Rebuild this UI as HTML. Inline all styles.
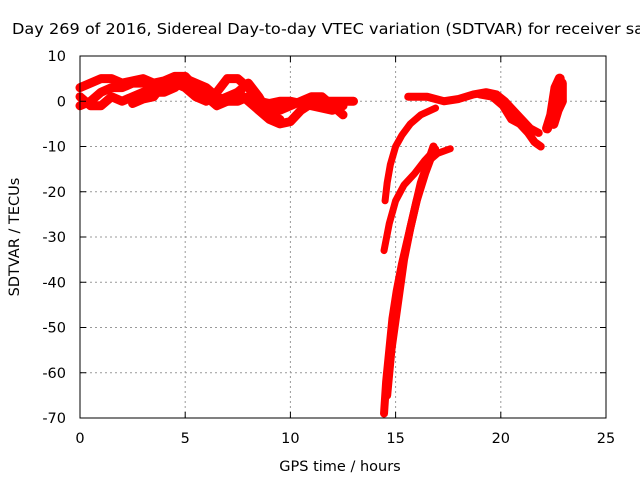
<!DOCTYPE html>
<html><head><meta charset="utf-8"><style>
body{margin:0;background:#fff;overflow:hidden;}
svg{display:block;font-family:"DejaVu Sans","Liberation Sans",sans-serif;}
</style></head><body>
<svg id="c" width="640" height="480">
<text x="12" y="34" font-size="15" textLength="632" lengthAdjust="spacingAndGlyphs">Day 269 of 2016, Sidereal Day-to-day VTEC variation (SDTVAR) for receiver sa</text>
<g id="grid"></g><g id="marks"></g><g id="axes"></g>
<text x="340" y="471" font-size="14.5" text-anchor="middle">GPS time / hours</text>
<text transform="translate(19,237) rotate(-90)" font-size="14.5" text-anchor="middle">SDTVAR / TECUs</text>
</svg>
<script>
const xTicks=[0,5,10,15,20,25];
const yTicks=[10,0,-10,-20,-30,-40,-50,-60,-70];
const trackLeft1=[[0,3],[0.5,4],[1,5],[1.5,5],[2,4],[2.5,4.5],[3,5],[3.5,4],[4,4.5],[4.5,5.5],[5,5.5],[5.5,3],[6,1],[6.5,0],[7,1],[7.5,2],[8,0],[8.5,-2],[9,-4],[9.5,-5],[10,-4.5],[10.5,-2],[11,-0.5],[11.5,0],[12,0],[12.5,0],[13,0]];
const trackLeft2=[[0,-1],[0.5,0],[1,2],[1.5,3],[2,3],[2.5,4],[3,4],[3.5,3],[4,3],[4.5,4],[5,3],[5.5,1],[6,0],[6.5,2],[7,5],[7.5,5],[8,3],[8.5,0],[9,-1],[9.5,-2],[10,-1],[10.5,0],[11,1],[11.5,1],[12,-1],[12.5,-3]];
const trackLeft3=[[0,1],[0.5,-1],[1,-1],[1.5,1],[2,0],[2.5,1],[3,2],[3.5,2],[4,2],[4.5,3],[5,5],[5.5,4],[6,3],[6.5,1],[7,0],[7.5,0],[8,1],[8.5,0],[9,-0.5],[9.5,0],[10,0],[11,-1],[12,-2],[12.5,-1]];
const trackLeft4=[[2.5,-0.5],[3,0.5],[3.5,1],[4,4],[4.5,5],[5,5],[5.5,3],[6,1],[6.5,-1],[7,0],[7.5,2],[8,4],[8.5,1],[9,-3],[9.5,-4]];
const trackA=[[14.5,-22],[14.6,-18],[14.75,-14],[15,-10],[15.3,-7.5],[15.7,-5],[16.2,-3],[16.9,-1.5]];
const trackB=[[14.45,-33],[14.7,-27],[15,-22],[15.4,-18.5],[15.9,-16],[16.4,-13],[16.9,-10.5]];
const trackB2=[[16.5,-13.5],[17,-11.5],[17.6,-10.5]];
const trackC1=[[14.45,-69],[14.55,-62],[14.7,-55],[14.85,-48],[15.05,-42],[15.3,-36],[15.6,-30],[15.9,-24],[16.2,-18],[16.5,-14],[16.8,-10]];
const trackC2=[[14.6,-65],[14.8,-55],[15.1,-45],[15.4,-35],[15.7,-28],[16,-22],[16.4,-16],[16.8,-11]];
const trackD1=[[15.6,1],[16.5,1],[17.3,0],[18,0.5],[18.7,1.5],[19.3,2],[19.8,1.5],[20.2,0],[20.6,-2],[21,-4],[21.4,-6],[21.8,-7]];
const trackD2=[[19,1.5],[19.6,1],[20.1,-1],[20.5,-4],[20.9,-5],[21.3,-7],[21.6,-9],[21.9,-10]];
const trackE1=[[22.2,-6],[22.4,-3],[22.5,0],[22.6,3],[22.8,5]];
const trackE2=[[22.5,-5],[22.7,-2],[22.9,0],[22.9,4]];
const tracks=[trackLeft1,trackLeft2,trackLeft3,trackLeft4,trackA,trackB,trackB2,trackC1,trackC2,trackD1,trackD2,trackE1,trackE2];
const widths=[9,9,9,9,7,7,7,8,8,8,8,10,10];

const X0=80,X1=606,Y0=56,Y1=418;
const px=v=>X0+(v-0)/25*(X1-X0);
const py=v=>Y0+(10-v)/80*(Y1-Y0);
const NS="http://www.w3.org/2000/svg";
function mk(t,a,p){const e=document.createElementNS(NS,t);for(const k in a)e.setAttribute(k,a[k]);p.appendChild(e);return e;}
const grid=document.getElementById('grid'),axes=document.getElementById('axes'),marks=document.getElementById('marks');
xTicks.forEach(t=>{
 if(t>0&&t<25){const g=mk('line',{x1:px(t),x2:px(t),y1:Y0,y2:Y1,stroke:'#999','stroke-dasharray':'2,3'},grid);
 
 }
 mk('line',{x1:px(t),x2:px(t),y1:Y1,y2:Y1-6,stroke:'#000'},axes);
 mk('line',{x1:px(t),x2:px(t),y1:Y0,y2:Y0+6,stroke:'#000'},axes);
 const l=mk('text',{x:px(t),y:443,'font-size':14.5,'text-anchor':'middle'},axes);l.textContent=t;
 
 
});
yTicks.forEach(t=>{
 if(t<10&&t>-70){const g=mk('line',{x1:X0,x2:X1,y1:py(t),y2:py(t),stroke:'#999','stroke-dasharray':'2,3'},grid);
 
 }
 mk('line',{x1:X0,x2:X0+6,y1:py(t),y2:py(t),stroke:'#000'},axes);
 mk('line',{x1:X1,x2:X1-6,y1:py(t),y2:py(t),stroke:'#000'},axes);
 const l=mk('text',{x:66,y:py(t)+5,'font-size':14.5,'text-anchor':'end'},axes);l.textContent=t;
 
 
});
const fr=mk('rect',{x:X0,y:Y0,width:X1-X0,height:Y1-Y0,fill:'none',stroke:'#000'},axes);


tracks.forEach((tr,i)=>{
 const pl=mk('polyline',{points:tr.map(p=>px(p[0])+','+py(p[1])).join(' '),fill:'none',stroke:'#f00','stroke-width':widths[i],'stroke-linejoin':'round','stroke-linecap':'round'},marks);
 
 
});
</script>
</body></html>
